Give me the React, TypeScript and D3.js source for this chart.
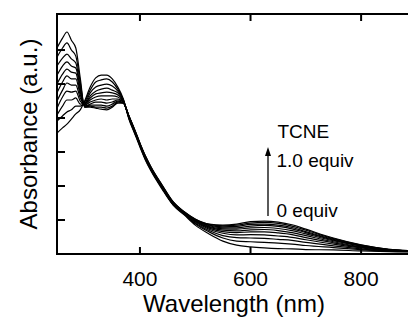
import React from "react";
import * as d3 from "d3";

// Wavelength grid (nm)
const wavelengths = [250, 260, 268, 276, 284, 292, 300, 310, 320, 330, 340, 350, 360, 370, 380, 390, 400, 410, 420, 440, 460, 480, 500, 525, 550, 575, 600, 625, 650, 675, 700, 750, 800, 850, 900];

// Absorbance spectra, 0 -> 1.0 equiv TCNE
const eq00 = [0.356, 0.371, 0.382, 0.397, 0.412, 0.424, 0.450, 0.491, 0.518, 0.526, 0.526, 0.515, 0.491, 0.456, 0.397, 0.356, 0.315, 0.276, 0.244, 0.191, 0.144, 0.115, 0.085, 0.059, 0.038, 0.026, 0.021, 0.018, 0.016, 0.015, 0.013, 0.012, 0.009, 0.007, 0.006];
const eq01 = [0.391, 0.406, 0.418, 0.424, 0.435, 0.435, 0.447, 0.482, 0.506, 0.512, 0.515, 0.506, 0.485, 0.453, 0.400, 0.359, 0.318, 0.279, 0.247, 0.194, 0.145, 0.117, 0.089, 0.065, 0.047, 0.038, 0.036, 0.034, 0.032, 0.029, 0.025, 0.019, 0.013, 0.008, 0.007];
const eq02 = [0.409, 0.435, 0.453, 0.453, 0.459, 0.441, 0.444, 0.474, 0.491, 0.497, 0.500, 0.494, 0.479, 0.453, 0.400, 0.359, 0.318, 0.279, 0.247, 0.194, 0.146, 0.118, 0.091, 0.069, 0.054, 0.048, 0.047, 0.046, 0.043, 0.040, 0.034, 0.024, 0.015, 0.009, 0.007];
const eq03 = [0.429, 0.462, 0.479, 0.476, 0.479, 0.450, 0.441, 0.465, 0.479, 0.485, 0.488, 0.482, 0.474, 0.450, 0.403, 0.362, 0.321, 0.282, 0.250, 0.197, 0.147, 0.119, 0.094, 0.073, 0.061, 0.056, 0.057, 0.056, 0.053, 0.049, 0.042, 0.029, 0.018, 0.010, 0.007];
const eq04 = [0.450, 0.482, 0.503, 0.497, 0.497, 0.459, 0.441, 0.459, 0.471, 0.474, 0.476, 0.474, 0.468, 0.450, 0.403, 0.362, 0.321, 0.282, 0.250, 0.197, 0.148, 0.120, 0.096, 0.076, 0.066, 0.063, 0.065, 0.065, 0.062, 0.057, 0.048, 0.033, 0.020, 0.011, 0.008];
const eq05 = [0.474, 0.506, 0.524, 0.515, 0.515, 0.468, 0.438, 0.453, 0.462, 0.465, 0.465, 0.465, 0.462, 0.447, 0.403, 0.362, 0.321, 0.282, 0.250, 0.197, 0.149, 0.121, 0.097, 0.079, 0.070, 0.068, 0.071, 0.072, 0.069, 0.063, 0.054, 0.036, 0.021, 0.012, 0.008];
const eq06 = [0.500, 0.529, 0.544, 0.535, 0.532, 0.476, 0.438, 0.447, 0.453, 0.456, 0.453, 0.456, 0.456, 0.447, 0.406, 0.365, 0.324, 0.285, 0.253, 0.200, 0.150, 0.122, 0.099, 0.081, 0.074, 0.073, 0.077, 0.078, 0.075, 0.069, 0.059, 0.039, 0.023, 0.012, 0.008];
const eq07 = [0.526, 0.553, 0.565, 0.553, 0.547, 0.485, 0.435, 0.441, 0.447, 0.447, 0.444, 0.447, 0.453, 0.447, 0.406, 0.365, 0.324, 0.285, 0.253, 0.200, 0.151, 0.122, 0.100, 0.083, 0.077, 0.077, 0.082, 0.084, 0.081, 0.074, 0.063, 0.041, 0.024, 0.013, 0.008];
const eq08 = [0.553, 0.576, 0.588, 0.574, 0.562, 0.494, 0.435, 0.438, 0.438, 0.438, 0.435, 0.441, 0.450, 0.444, 0.406, 0.365, 0.324, 0.285, 0.253, 0.200, 0.152, 0.123, 0.101, 0.085, 0.080, 0.081, 0.087, 0.088, 0.085, 0.078, 0.066, 0.043, 0.025, 0.013, 0.009];
const eq09 = [0.579, 0.606, 0.621, 0.600, 0.582, 0.506, 0.432, 0.435, 0.432, 0.432, 0.429, 0.435, 0.447, 0.444, 0.406, 0.368, 0.326, 0.288, 0.256, 0.203, 0.153, 0.124, 0.102, 0.087, 0.083, 0.085, 0.091, 0.093, 0.090, 0.082, 0.070, 0.045, 0.026, 0.014, 0.009];
const eq10 = [0.606, 0.635, 0.653, 0.629, 0.606, 0.518, 0.432, 0.432, 0.429, 0.426, 0.424, 0.432, 0.444, 0.444, 0.406, 0.368, 0.326, 0.288, 0.256, 0.203, 0.154, 0.124, 0.103, 0.088, 0.085, 0.088, 0.095, 0.097, 0.094, 0.086, 0.073, 0.047, 0.027, 0.014, 0.009];

const spectra = [eq00, eq01, eq02, eq03, eq04, eq05, eq06, eq07, eq08, eq09, eq10];

const xTicks = [400, 600, 800];
const yTicks = [0.1, 0.2, 0.3, 0.4, 0.5, 0.6];
const xDomain = [250, 900];
const yDomain = [0, 0.706];

const labels = { x: "Wavelength (nm)", y: "Absorbance (a.u.)", title: "TCNE", hi: "1.0 equiv", lo: "0 equiv" };

export default function App() {
  const W = 408, H = 320;
  const left = 57, right = 416.4, top = 14, bottom = 254;
  const x = d3.scaleLinear().domain(xDomain).range([left, right]);
  const y = d3.scaleLinear().domain(yDomain).range([bottom, top]);
  const line = d3
    .line<number>()
    .x((_, i) => x(wavelengths[i]))
    .y((d) => y(d))
    .curve(d3.curveMonotoneX);
  const font = "'Liberation Sans', Arial, Helvetica, sans-serif";
  const arrowX = 268;
  return (
    <svg width={W} height={H} style={{ position: "absolute", left: 0, top: 0, background: "#fff" }} fontFamily={font}>
      <defs>
        <clipPath id="plot">
          <rect x={left} y={top} width={right - left} height={bottom - top} />
        </clipPath>
      </defs>
      <g clipPath="url(#plot)">
        {spectra.map((s, i) => (
          <path key={i} d={line(s) || ""} fill="none" stroke="#000" strokeWidth={1.2} strokeLinejoin="round" />
        ))}
      </g>
      {/* frame */}
      <rect x={left} y={top} width={right - left} height={bottom - top} fill="none" stroke="#000" strokeWidth={2} />
      {xTicks.map((t) => (
        <g key={t}>
          <line x1={x(t)} x2={x(t)} y1={bottom} y2={bottom - 7} stroke="#000" strokeWidth={2} />
          <line x1={x(t)} x2={x(t)} y1={top} y2={top + 7} stroke="#000" strokeWidth={2} />
          <text x={x(t)} y={286} fontSize={21} textAnchor="middle">{t}</text>
        </g>
      ))}
      {yTicks.map((t) => (
        <line key={t} x1={left} x2={left + 8} y1={y(t)} y2={y(t)} stroke="#000" strokeWidth={2} />
      ))}
      <text x={234} y={312} fontSize={24} textAnchor="middle">{labels.x}</text>
      <text transform={`translate(37,${(top + bottom) / 2}) rotate(-90)`} fontSize={24} textAnchor="middle">{labels.y}</text>
      {/* annotation */}
      <line x1={arrowX} x2={arrowX} y1={216} y2={154} stroke="#000" strokeWidth={1.3} />
      <path d={`M${arrowX},147 L${arrowX - 3},156 L${arrowX + 3},156 Z`} fill="#000" />
      <text x={277.5} y={138} fontSize={19}>{labels.title}</text>
      <text x={276.5} y={166.5} fontSize={19}>{labels.hi}</text>
      <text x={276.5} y={217} fontSize={19}>{labels.lo}</text>
    </svg>
  );
}
